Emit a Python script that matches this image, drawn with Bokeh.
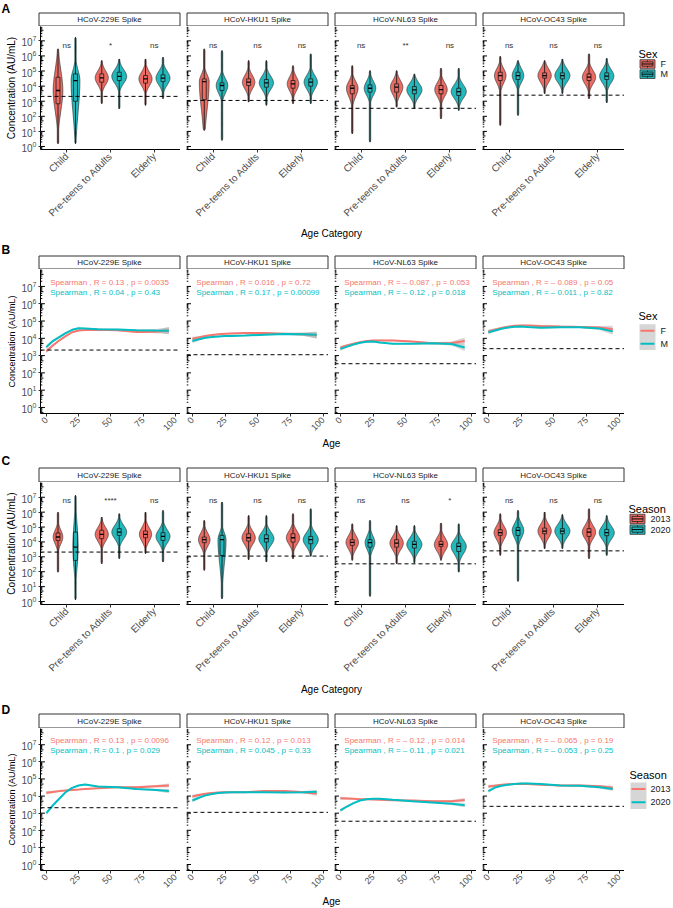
import math
import numpy as np
from bokeh.plotting import figure
from bokeh.layouts import column, row
from bokeh.models import Range1d, FixedTicker, Span
from bokeh.core.properties import value
from bokeh.embed import file_html
from bokeh.resources import INLINE

FONT = "Liberation Sans"
RED, TEAL = "#F8766D", "#00BFC4"
RED_FILL, TEAL_FILL = "#EC6B63", "#22B8BC"

# ---------------------------------------------------------------- data
antigens = ["HCoV-229E Spike", "HCoV-HKU1 Spike", "HCoV-NL63 Spike", "HCoV-OC43 Spike"]
age_categories = ["Child", "Pre-teens to Adults", "Elderly"]
category_positions = [1, 2, 3]
log_decades = [0, 1, 2, 3, 4, 5, 6, 7]
age_ticks = [0, 25, 50, 75, 100]
cutoff_log10 = [3.32, 3.05, 2.53, 3.40]

sex_groups = ["F", "M"]
season_groups = ["2013", "2020"]

# Violin summaries, log10(AU/mL). rows = antigen,
# cols = grp1 Child, grp1 Pre-teens, grp1 Elderly, grp2 Child, grp2 Pre-teens, grp2 Elderly
A_min = [[0.18, 2.83, 2.72, 0.18, 2.49, 3.16],
         [1.06, 2.94, 2.83, 0.40, 2.72, 2.83],
         [0.84, 2.60, 1.83, 0.29, 2.49, 2.38],
         [1.39, 3.49, 3.16, 2.05, 3.49, 2.89]]
A_q1 = [[2.83, 4.26, 4.20, 3.00, 4.37, 4.30],
        [3.10, 4.04, 3.86, 3.71, 3.93, 4.00],
        [3.49, 3.60, 3.49, 3.60, 3.49, 3.38],
        [4.37, 4.53, 4.37, 4.44, 4.48, 4.44]]
A_med = [[3.71, 4.55, 4.48, 4.37, 4.64, 4.53],
         [4.30, 4.26, 4.15, 4.04, 4.22, 4.26],
         [3.86, 3.93, 3.77, 3.86, 3.75, 3.64],
         [4.70, 4.70, 4.59, 4.70, 4.70, 4.66]]
A_q3 = [[4.59, 4.81, 4.70, 4.81, 4.92, 4.75],
        [4.48, 4.48, 4.37, 4.22, 4.44, 4.48],
        [4.04, 4.15, 4.04, 4.08, 3.97, 3.86],
        [4.92, 4.88, 4.81, 4.92, 4.88, 4.88]]
A_max = [[6.47, 5.70, 5.80, 7.24, 5.80, 5.92],
         [6.47, 5.70, 5.36, 6.36, 5.70, 6.14],
         [5.36, 5.03, 5.19, 5.03, 4.81, 5.19],
         [5.98, 5.70, 6.14, 5.70, 5.80, 5.85]]
A_width = [[0.11, 0.15, 0.15, 0.10, 0.17, 0.16],
           [0.11, 0.14, 0.13, 0.13, 0.16, 0.15],
           [0.13, 0.14, 0.14, 0.13, 0.17, 0.17],
           [0.13, 0.15, 0.15, 0.13, 0.17, 0.16]]
A_sig = [["ns", "*", "ns"], ["ns", "ns", "ns"], ["ns", "**", "ns"], ["ns", "ns", "ns"]]

C_min = [[1.97, 2.53, 3.21, 0.11, 2.87, 2.65],
         [2.09, 2.80, 2.87, 0.18, 2.65, 3.03],
         [2.76, 2.53, 2.76, 0.34, 2.58, 1.97],
         [3.09, 3.54, 2.87, 1.35, 3.54, 3.09]]
C_q1 = [[4.10, 4.22, 4.28, 2.76, 4.44, 4.10],
        [3.95, 4.06, 3.99, 3.09, 3.99, 3.88],
        [3.77, 3.65, 3.70, 3.65, 3.59, 3.36],
        [4.44, 4.55, 4.37, 4.44, 4.55, 4.42]]
C_med = [[4.33, 4.51, 4.51, 3.65, 4.66, 4.37],
         [4.15, 4.28, 4.28, 4.15, 4.22, 4.15],
         [3.97, 3.92, 3.83, 3.95, 3.83, 3.70],
         [4.62, 4.73, 4.66, 4.78, 4.73, 4.62]]
C_q3 = [[4.60, 4.78, 4.73, 4.66, 4.89, 4.62],
        [4.33, 4.55, 4.55, 4.44, 4.48, 4.37],
        [4.15, 4.15, 4.04, 4.15, 4.04, 3.92],
        [4.82, 4.93, 4.89, 4.96, 4.89, 4.84]]
C_max = [[6.00, 5.67, 6.01, 7.13, 5.90, 6.12],
         [5.45, 5.78, 5.90, 6.68, 5.78, 6.23],
         [5.22, 5.11, 5.27, 5.45, 5.11, 5.22],
         [5.90, 6.01, 6.23, 6.12, 5.85, 5.78]]
C_width = [[0.11, 0.15, 0.14, 0.06, 0.17, 0.16],
           [0.13, 0.15, 0.15, 0.09, 0.17, 0.17],
           [0.14, 0.15, 0.15, 0.11, 0.17, 0.17],
           [0.14, 0.15, 0.15, 0.13, 0.17, 0.17]]
C_sig = [["ns", "****", "ns"], ["ns", "ns", "ns"], ["ns", "ns", "*"], ["ns", "ns", "ns"]]

# Smoothed trends, log10(AU/mL) at these ages
ages = [0, 5, 10, 15, 20, 25, 30, 40, 55, 70, 85, 95]
B_F = [[3.25, 3.58, 3.87, 4.13, 4.35, 4.45, 4.48, 4.49, 4.46, 4.37, 4.38, 4.45],
       [3.97, 4.05, 4.13, 4.19, 4.23, 4.26, 4.28, 4.30, 4.30, 4.27, 4.24, 4.17],
       [3.45, 3.58, 3.68, 3.77, 3.84, 3.87, 3.88, 3.87, 3.81, 3.72, 3.73, 3.85],
       [4.39, 4.50, 4.60, 4.67, 4.72, 4.74, 4.74, 4.71, 4.68, 4.66, 4.62, 4.53]]
B_M = [[3.49, 3.84, 4.07, 4.30, 4.49, 4.58, 4.57, 4.53, 4.51, 4.47, 4.45, 4.44],
       [3.84, 3.94, 4.03, 4.08, 4.11, 4.13, 4.14, 4.16, 4.21, 4.25, 4.23, 4.20],
       [3.39, 3.52, 3.64, 3.74, 3.80, 3.81, 3.76, 3.68, 3.68, 3.71, 3.67, 3.47],
       [4.35, 4.45, 4.55, 4.62, 4.67, 4.68, 4.65, 4.61, 4.64, 4.64, 4.57, 4.40]]
B_band = [0.12, 0.08, 0.06, 0.05, 0.04, 0.04, 0.04, 0.04, 0.04, 0.05, 0.09, 0.20]
B_R = [["0.13", "0.04"], ["0.016", "0.17"], ["\u2013 0.087", "\u2013 0.12"], ["\u2013 0.089", "\u2013 0.011"]]
B_p = [["0.0035", "0.43"], ["0.72", "0.00099"], ["0.053", "0.018"], ["0.05", "0.82"]]

D_2013 = [[4.19, 4.24, 4.29, 4.33, 4.36, 4.38, 4.41, 4.46, 4.52, 4.52, 4.58, 4.62],
          [3.98, 4.06, 4.13, 4.18, 4.21, 4.23, 4.23, 4.23, 4.29, 4.29, 4.23, 4.14],
          [3.88, 3.86, 3.84, 3.82, 3.81, 3.80, 3.79, 3.76, 3.74, 3.70, 3.70, 3.77],
          [4.56, 4.61, 4.66, 4.69, 4.71, 4.72, 4.71, 4.66, 4.62, 4.62, 4.58, 4.49]]
D_2020 = [[3.00, 3.45, 3.84, 4.23, 4.48, 4.62, 4.68, 4.56, 4.52, 4.42, 4.36, 4.29],
          [3.74, 3.90, 4.04, 4.12, 4.18, 4.21, 4.22, 4.23, 4.23, 4.21, 4.23, 4.25],
          [3.16, 3.39, 3.59, 3.74, 3.82, 3.85, 3.85, 3.78, 3.70, 3.63, 3.55, 3.47],
          [4.29, 4.50, 4.60, 4.66, 4.70, 4.73, 4.74, 4.70, 4.62, 4.60, 4.52, 4.42]]
D_band = [0.10, 0.07, 0.05, 0.04, 0.04, 0.04, 0.04, 0.04, 0.04, 0.05, 0.07, 0.12]
D_R = [["0.13", "0.1"], ["0.12", "0.045"], ["\u2013 0.12", "\u2013 0.11"], ["\u2013 0.065", "\u2013 0.053"]]
D_p = [["0.0096", "0.029"], ["0.013", "0.33"], ["0.014", "0.021"], ["0.19", "0.25"]]

# ---------------------------------------------------------------- layout (page px)
PAGE_W = 673
LEFT_W = 18
FRAME_L = [38, 186, 334, 482]
FRAME_W = 142
DODGE = [-0.2, 0.2]


def blank(width, height, xr, yr):
    p = figure(width=width, height=height, x_range=xr, y_range=yr,
               toolbar_location=None, output_backend="svg",
               x_axis_location=None, y_axis_location=None, min_border=0)
    p.outline_line_color = None
    p.grid.visible = False
    p.background_fill_color = "white"
    return p


def txt(p, x, y, s, size, color="black", align="left", baseline="middle", angle=0.0, style="normal"):
    p.text(x=x, y=y, text=s, text_font=value(FONT), text_font_size=size,
           text_color=color, text_align=align, text_baseline=baseline,
           angle=angle, text_font_style=style)


def header(top, bottom, strip_top):
    p = blank(PAGE_W - LEFT_W, bottom - top, Range1d(LEFT_W, PAGE_W), Range1d(bottom, top))
    p.quad(left=[l + 0.5 for l in FRAME_L], right=[l + FRAME_W - 0.5 for l in FRAME_L],
           top=strip_top + 0.5, bottom=bottom - 0.5, fill_color="white",
           line_color="#333333", line_width=1)
    txt(p, [l + FRAME_W / 2 for l in FRAME_L], [(strip_top + bottom) / 2] * 4, antigens,
        "8px", "#1A1A1A", "center")
    return p


def title_row(top, bottom, s):
    p = blank(PAGE_W - LEFT_W, bottom - top, Range1d(LEFT_W, PAGE_W), Range1d(bottom, top))
    txt(p, [331], [(top + bottom) / 2], [s], "10px", "black", "center")
    return p


def left_strip(top, bottom, letter, letter_y, frame_top, frame_h, size):
    p = blank(LEFT_W, bottom - top, Range1d(0, LEFT_W), Range1d(bottom, top))
    txt(p, [1], [letter_y], [letter], "12px", "black", "left", style="bold")
    txt(p, [11], [frame_top + frame_h / 2], ["Concentration (AU/mL)"], size, "black", "center",
        angle=math.pi / 2)
    return p


def make_panel(i, kind, frame_h, bottom_border, ylog):
    lb = 20 if i == 0 else 6
    xr = Range1d(0.4, 3.6) if kind == "cat" else Range1d(-4.5, 104)
    p = figure(width=FRAME_W + lb, height=frame_h + bottom_border, x_range=xr,
               y_range=Range1d(10 ** ylog[0], 10 ** ylog[1]), y_axis_type="log",
               y_axis_location="left" if i == 0 else None, toolbar_location=None,
               output_backend="svg", min_border_left=lb, min_border_right=0,
               min_border_top=0, min_border_bottom=bottom_border)
    p.outline_line_color = None
    p.grid.visible = False
    ax = p.xaxis[0]
    ax.axis_line_color = "black"
    ax.axis_line_width = 1
    ax.major_tick_in = 0
    ax.major_tick_out = 3
    ax.major_tick_line_color = "#333333"
    ax.minor_tick_line_color = None
    ax.major_label_orientation = math.pi / 4
    ax.major_label_text_font = FONT
    ax.major_label_text_color = "#4D4D4D"
    ax.major_label_standoff = 2
    if kind == "cat":
        ax.ticker = FixedTicker(ticks=category_positions)
        ax.major_label_overrides = {pos: lab for pos, lab in zip(category_positions, age_categories)}
        ax.major_label_text_font_size = "10px"
    else:
        ax.ticker = FixedTicker(ticks=age_ticks)
        ax.major_label_text_font_size = "9px"
    if i == 0:
        ay = p.yaxis[0]
        ay.ticker = FixedTicker(ticks=[10.0 ** k for k in log_decades])
        ay.axis_line_color = "black"
        ay.axis_line_width = 1
        ay.major_tick_in = 0
        ay.major_tick_out = 2
        ay.major_tick_line_color = "#333333"
        ay.minor_tick_line_color = None
        ay.major_label_text_font = FONT
        ay.major_label_text_font_size = "10px"
        ay.major_label_text_color = "#4D4D4D"
        ay.major_label_standoff = 2
    # logticks along the left edge
    x0 = xr.start
    upx = (xr.end - xr.start) / FRAME_W
    lx1, ly = [], []
    for k in range(-1, 9):
        for m in range(1, 10):
            lv = math.log10(m) + k
            if ylog[0] <= lv <= ylog[1]:
                L = 4.5 if m == 1 else (3.0 if m == 5 else 1.8)
                lx1.append(x0 + L * upx)
                ly.append(10 ** lv)
    p.segment(x0=[x0] * len(ly), y0=ly, x1=lx1, y1=ly, line_color="black", line_width=1)
    p.add_layout(Span(location=10 ** cutoff_log10[i], dimension="width", line_color="black",
                      line_width=1, line_dash="4 3"))
    return p


def draw_violins(p, i, mins, q1s, meds, q3s, maxs, widths, sig, sig_y):
    fills = [RED_FILL, TEAL_FILL]
    pxs, pys, pcol = [], [], []
    bl, br, bt, bb, bc = [], [], [], [], []
    mx0, mx1, my = [], [], []
    wx, wy0, wy1 = [], [], []
    bw = 0.045
    for g in range(2):
        for c in range(3):
            j = g * 3 + c
            cx = category_positions[c] + DODGE[g]
            vmin, q1, md, q3, vmax, w = mins[i][j], q1s[i][j], meds[i][j], q3s[i][j], maxs[i][j], widths[i][j]
            ys = np.linspace(vmin, vmax, 100)
            s_lo = max((md - q1) / 0.674, 0.45)
            s_hi = max((q3 - md) / 0.674, 0.45)
            s = np.where(ys < md, s_lo, s_hi)
            half = w * np.exp(-0.5 * ((ys - md) / s) ** 2)
            half = np.maximum(half, 0.016)
            edge = np.clip(np.minimum(ys - vmin, vmax - ys) / 0.12, 0, 1)
            half = half * np.sqrt(edge)
            pxs.append(list(np.concatenate([cx - half, (cx + half)[::-1]])))
            pys.append(list(10 ** np.concatenate([ys, ys[::-1]])))
            pcol.append(fills[g])
            bl.append(cx - bw); br.append(cx + bw); bt.append(10 ** q3); bb.append(10 ** q1)
            bc.append(fills[g])
            mx0.append(cx - bw); mx1.append(cx + bw); my.append(10 ** md)
            wx.append(cx); wy0.append(10 ** vmin); wy1.append(10 ** vmax)
    p.patches(xs=pxs, ys=pys, fill_color=pcol, line_color="#333333", line_width=0.7)
    p.segment(x0=wx, y0=wy0, x1=wx, y1=wy1, line_color="#1A1A1A", line_width=0.9)
    p.quad(left=bl, right=br, top=bt, bottom=bb, fill_color=bc, line_color="#1A1A1A", line_width=0.8)
    p.segment(x0=mx0, y0=my, x1=mx1, y1=my, line_color="black", line_width=1.3)
    txt(p, category_positions, [10 ** sig_y] * 3, sig[i], "8px", "#333333", "center")


def draw_lines(p, i, s1, s2, band, Rs, ps):
    cols = [RED, TEAL]
    b = np.array(band)
    for ser in (s1, s2):
        v = np.array(ser[i])
        p.varea(x=ages, y1=10 ** (v - b), y2=10 ** (v + b), fill_color="#999999", fill_alpha=0.4)
    for ser, col in zip((s1, s2), cols):
        p.line(x=ages, y=10 ** np.array(ser[i]), line_color=col, line_width=2)
    labels = ["Spearman , R = %s , p = %s" % (Rs[i][k], ps[i][k]) for k in range(2)]
    txt(p, [3, 3], [10 ** 7.23, 10 ** 6.65], labels, "8px", cols, "left")


def legend_violin(top, height, title, labels, title_y, key_tops, key_h, kl, lab_x):
    p = blank(PAGE_W - 624, height, Range1d(624, PAGE_W), Range1d(top + height, top))
    txt(p, [kl - 1], [title_y], [title], "11px", "black", "left")
    fills = [RED_FILL, TEAL_FILL]
    kr = kl + 16
    for k in range(2):
        t = key_tops[k]
        b = t + key_h
        m = (t + b) / 2
        p.quad(left=kl + 0.5, right=kr - 0.5, top=t, bottom=b, fill_color=fills[k],
               line_color="#333333", line_width=0.8)
        p.quad(left=kl + 2.5, right=kr - 2.5, top=t + 3.5, bottom=b - 3.5, fill_color=None,
               line_color="#1A1A1A", line_width=0.8)
        p.segment(x0=[kl + 2.5], y0=[m], x1=[kr - 2.5], y1=[m], line_color="black", line_width=1)
        p.segment(x0=[(kl + kr) / 2] * 2, y0=[t + 1, b - 3.5], x1=[(kl + kr) / 2] * 2,
                  y1=[t + 3.5, b - 1], line_color="#1A1A1A", line_width=0.8)
        txt(p, [lab_x], [m], [labels[k]], "9px", "#1A1A1A", "left")
    return p


def legend_line(top, height, title, labels, title_y, key_top, key_h, kl, lab_x):
    p = blank(PAGE_W - 624, height, Range1d(624, PAGE_W), Range1d(top + height, top))
    txt(p, [kl - 1], [title_y], [title], "11px", "black", "left")
    kr = kl + 16
    p.quad(left=kl, right=kr, top=key_top, bottom=key_top + 2 * key_h, fill_color="#D6D6D6",
           line_color=None)
    for k, col in enumerate([RED, TEAL]):
        m = key_top + key_h * (k + 0.5)
        p.segment(x0=[kl + 1], y0=[m], x1=[kr - 1], y1=[m], line_color=col, line_width=2)
        txt(p, [lab_x], [m], [labels[k]], "9px", "#1A1A1A", "left")
    return p


def section(letter, letter_y, top, strip_top, frame_top, frame_h, bottom_border, title_bottom,
            kind, draw, ylog, ysize, legend, axis_title):
    plot_bottom = frame_top + frame_h + bottom_border
    figs = []
    for i in range(4):
        p = make_panel(i, kind, frame_h, bottom_border, ylog)
        draw(p, i)
        figs.append(p)
    figs.append(legend)
    right = column(header(top, frame_top, strip_top), row(*figs),
                   title_row(plot_bottom, title_bottom, axis_title))
    left = left_strip(top, title_bottom, letter, letter_y, frame_top, frame_h, ysize)
    return row(left, right)


secA = section("A", 8, 0, 12, 26, 123, 77, 240, "cat",
               lambda p, i: draw_violins(p, i, A_min, A_q1, A_med, A_q3, A_max, A_width, A_sig, 6.69),
               (-0.2, 7.95), "10px",
               legend_violin(26, 200, "Sex", sex_groups, 71, [80, 96.5], 14, 639, 660),
               "Age Category")

secB = section("B", 249, 240, 255, 269, 144, 24, 449, "num",
               lambda p, i: draw_lines(p, i, B_F, B_M, B_band, B_R, B_p),
               (-0.35, 7.98), "9px",
               legend_line(269, 168, "Sex", sex_groups, 323, 333, 15, 639, 660),
               "Age")

secC = section("C", 460, 449, 467, 482, 122, 78, 695, "cat",
               lambda p, i: draw_violins(p, i, C_min, C_q1, C_med, C_q3, C_max, C_width, C_sig, 6.75),
               (-0.2, 7.99), "10px",
               legend_violin(482, 200, "Season", season_groups, 526, [534, 551.5], 15.5, 629, 650),
               "Age Category")

secD = section("D", 709, 695, 713, 728, 142, 24, 908, "num",
               lambda p, i: draw_lines(p, i, D_2013, D_2020, D_band, D_R, D_p),
               (-0.35, 7.95), "9px",
               legend_line(728, 166, "Season", season_groups, 782, 791, 15.5, 630, 650),
               "Age")

layout = column(secA, secB, secC, secD)

open("out.html", "w").write(file_html(layout, INLINE))
